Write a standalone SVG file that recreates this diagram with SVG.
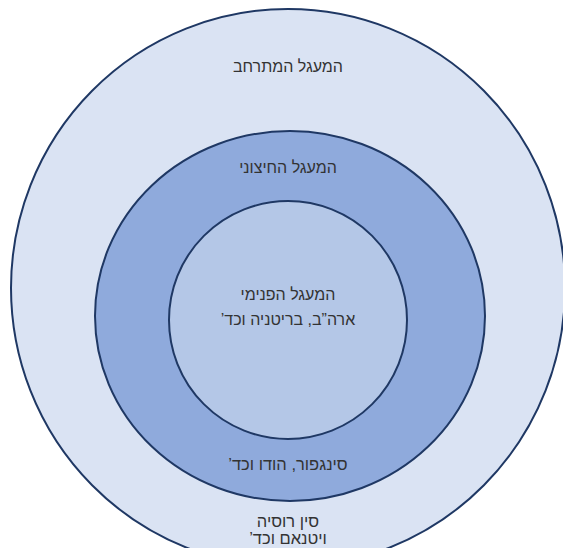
<svg xmlns="http://www.w3.org/2000/svg" width="563" height="548" viewBox="0 0 563 548">
<style>
.ring{stroke:#1f3864;stroke-width:2}
.t{font-family:"Liberation Sans","DejaVu Sans",sans-serif;font-size:16px;fill:#333333;text-anchor:middle;direction:rtl;unicode-bidi:embed}
.b{font-size:16.5px}
</style>
<rect width="563" height="548" fill="#ffffff"/>
<g id="outer">
<ellipse class="ring" cx="288" cy="288" rx="277" ry="279" fill="#dae3f3"/>
<text class="t" x="288" y="72">המעגל המתרחב</text>
<text class="t b" x="288" y="527">סין רוסיה</text>
<text class="t b" x="288" y="544">ויטנאם וכד’</text>
</g>
<g id="middle">
<ellipse class="ring" cx="290" cy="316" rx="195" ry="185" fill="#8faadc"/>
<text class="t" x="288" y="173">המעגל החיצוני</text>
<text class="t b" x="288" y="470">סינגפור, הודו וכד’</text>
</g>
<g id="inner">
<circle class="ring" cx="288" cy="320" r="119" fill="#b4c7e7"/>
<text class="t" x="288" y="300">המעגל הפנימי</text>
<text class="t" x="288" y="325">ארה”ב, בריטניה וכד’</text>
</g>
<g id="connectors"/>
</svg>
